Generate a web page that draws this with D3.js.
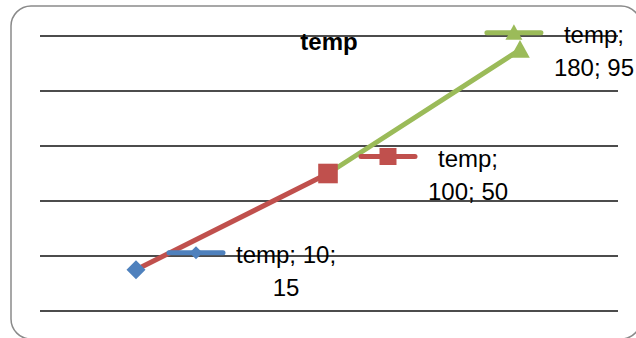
<!DOCTYPE html>
<html>
<head>
<meta charset="utf-8">
<script src="https://cdn.jsdelivr.net/npm/d3@7"></script>
<style>
  html, body { margin: 0; padding: 0; background: #fff; }
  svg { display: block; }
</style>
</head>
<body>
<div id="chart"></div>
<script>
// ---- data ----
const seriesName = "temp";
const categories = ["10", "100", "180"];
const values = [15, 50, 95];
const yTicks = [0, 20, 40, 60, 80, 100];
const pointColors = ["#4F81BD", "#C0504D", "#9BBB59"];
const pointShapes = ["diamond", "square", "triangle"];

// ---- layout ----
const W = 636, H = 338;
const plot = { left: 40, right: 616, top: 36, bottom: 311 };
const font = "'Liberation Sans', Arial, sans-serif";

const svg = d3.select("#chart").append("svg").attr("width", W).attr("height", H);

// chart area border
svg.append("rect")
  .attr("x", 11).attr("y", 6).attr("width", 630).attr("height", 333)
  .attr("rx", 20).attr("ry", 20)
  .attr("fill", "#fff").attr("stroke", "#8a8a8a").attr("stroke-width", 1.5);

const x = d3.scalePoint().domain(categories).range([plot.left, plot.right]).padding(0.5);
const y = d3.scaleLinear().domain([0, 100]).range([plot.bottom, plot.top]);

// gridlines
svg.append("g").selectAll("line").data(yTicks).join("line")
  .attr("x1", plot.left).attr("x2", plot.right + 2)
  .attr("y1", d => y(d)).attr("y2", d => y(d))
  .attr("stroke", "#111").attr("stroke-width", 1.3);

// title
svg.append("text")
  .attr("x", 329).attr("y", 50)
  .attr("text-anchor", "middle")
  .attr("font-family", font).attr("font-weight", "bold").attr("font-size", 24)
  .text(seriesName);

const pts = categories.map((c, i) => ({ c, v: values[i], i, px: x(c), py: y(values[i]) }));

// marker path
function markerPath(shape, r) {
  if (shape === "diamond") return `M0,${-r}L${r},0L0,${r}L${-r},0Z`;
  if (shape === "square") return `M${-r},${-r}H${r}V${r}H${-r}Z`;
  const h = r * 1.8;
  return `M0,${-h * 0.55}L${r},${h * 0.45}L${-r},${h * 0.45}Z`;
}

// line segments colored by point
svg.append("g").selectAll("line").data(pts.slice(1)).join("line")
  .attr("x1", d => pts[d.i - 1].px).attr("y1", d => pts[d.i - 1].py)
  .attr("x2", d => d.px).attr("y2", d => d.py)
  .attr("stroke", d => pointColors[d.i]).attr("stroke-width", 5)
  .attr("stroke-linecap", "round");

// markers
svg.append("g").selectAll("path").data(pts).join("path")
  .attr("transform", d => `translate(${d.px},${d.py})`)
  .attr("d", d => markerPath(pointShapes[d.i], pointShapes[d.i] === "diamond" ? 9.5 : 9.8))
  .attr("fill", d => pointColors[d.i]);

// data labels with legend keys
const maxWrap = 106;
const limitRight = 634;
pts.forEach(d => {
  const g = svg.append("g");
  const words = `${seriesName}; ${d.c}; ${d.v}`.split(" ");
  // wrap
  const meas = svg.append("text").attr("font-family", font).attr("font-size", 24);
  const lines = [];
  let cur = "";
  words.forEach(w => {
    const test = cur ? cur + " " + w : w;
    meas.text(test);
    if (cur && meas.node().getComputedTextLength() > maxWrap) { lines.push(cur); cur = w; }
    else cur = test;
  });
  if (cur) lines.push(cur);
  const widths = lines.map(l => { meas.text(l); return meas.node().getComputedTextLength(); });
  meas.remove();
  const blockW = d3.max(widths);

  let kx = d.px + 60;
  const right = kx + 28 + 12 + blockW;
  if (right > limitRight) kx += limitRight - right;
  const ky = d.py - 17;
  const textCx = kx + 28 + 12 + blockW / 2;

  g.append("line")
    .attr("x1", kx - 27).attr("x2", kx + 27).attr("y1", ky).attr("y2", ky)
    .attr("stroke", pointColors[d.i]).attr("stroke-width", 5).attr("stroke-linecap", "round");
  g.append("path")
    .attr("transform", `translate(${kx},${ky})`)
    .attr("d", markerPath(pointShapes[d.i], pointShapes[d.i] === "diamond" ? 6.5 : 8.5))
    .attr("fill", pointColors[d.i]);
  const t = g.append("text")
    .attr("font-family", font).attr("font-size", 24).attr("fill", "#000")
    .attr("text-anchor", "middle");
  lines.forEach((l, k) => {
    t.append("tspan").attr("x", textCx).attr("y", d.py - 7 + k * 33).text(l);
  });
});
</script>
</body>
</html>
